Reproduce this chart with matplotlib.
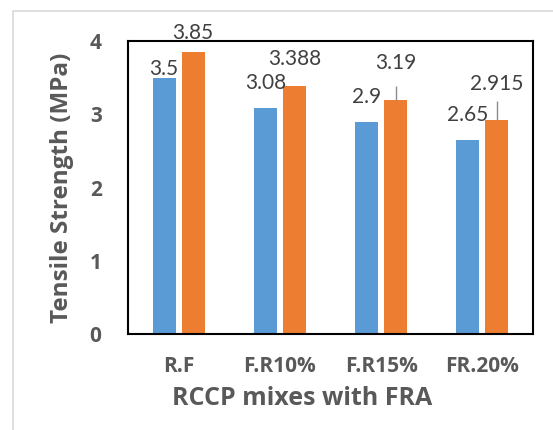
import matplotlib
matplotlib.use("Agg")
import matplotlib.pyplot as plt
import numpy as np
from matplotlib.patches import Rectangle

# Splitting tensile strength of RCCP mixes with fine recycled aggregate
categories = ["R.F", "F.R10%", "F.R15%", "FR.20%"]
series_a = [3.5, 3.08, 2.9, 2.65]
series_b = [3.85, 3.388, 3.19, 2.915]
err_b = [0.0, 0.0, 0.2, 0.265]
yticks = [0, 1, 2, 3, 4]

# vertical placement of each value label above its bar (points)
label_off_a = [6, 18, 18, 18]
label_off_b = [14, 19, 27, 26]

BLUE = "#5B9BD5"
ORANGE = "#ED7D31"
TXT = "#595959"
BOLD_FONT = ["Open Sans", "DejaVu Sans"]

plt.rcParams["font.family"] = ["Lato", "DejaVu Sans"]

fig = plt.figure(figsize=(5.53, 4.30), dpi=100)
ax = fig.add_axes([128 / 553, 1 - 334 / 430, 405 / 553, 293 / 430])

# outer chart frame
fig.patches.append(Rectangle((13 / 553, -0.1), 1.2, (430 - 11) / 430 + 0.1,
                             transform=fig.transFigure, fill=False,
                             edgecolor="#d9d9d9", linewidth=1.2))

x = np.arange(len(categories))
w = 0.227
off = 0.143
ax.bar(x - off, series_a, width=w, color=BLUE, zorder=2)
ax.bar(x + off, series_b, width=w, color=ORANGE, zorder=2)

# positive error bars on the second series
ex = [xi + off for xi, e in zip(x, err_b) if e > 0]
ey = [v for v, e in zip(series_b, err_b) if e > 0]
ee = [e for e in err_b if e > 0]
ax.errorbar(ex, ey, yerr=[np.zeros(len(ee)), ee], fmt="none",
            ecolor="#8c8c8c", elinewidth=1.0, capsize=0, zorder=3)

for xi, v, o in zip(x, series_a, label_off_a):
    ax.annotate(f"{v:g}", (xi - off, v), xytext=(0, o), textcoords="offset points",
                ha="center", va="center", fontsize=15, color="#404040",
                annotation_clip=False)
for xi, v, o in zip(x, series_b, label_off_b):
    ax.annotate(f"{v:g}", (xi + off, v), xytext=(0, o), textcoords="offset points",
                ha="center", va="center", fontsize=15, color="#404040",
                annotation_clip=False)

ax.set_xlim(-0.5, len(categories) - 0.5)
ax.set_ylim(0, 4)
ax.set_yticks(yticks)
ax.set_yticklabels([str(t) for t in yticks], fontsize=15, fontweight="bold",
                   color=TXT, family=BOLD_FONT)
ax.set_xticks(x)
ax.set_xticklabels(categories, fontsize=15, fontweight="bold", color=TXT,
                   family=BOLD_FONT)
ax.tick_params(axis="both", length=0)
ax.tick_params(axis="y", pad=19)
ax.tick_params(axis="x", pad=16)

for s in ax.spines.values():
    s.set_color("black")
    s.set_linewidth(1.5)

ax.set_xlabel("RCCP mixes with FRA", fontsize=18, fontweight="bold", color=TXT,
              family=BOLD_FONT, labelpad=6)
ax.xaxis.label.set_x(0.43)
ax.set_ylabel("Tensile Strength (MPa)", fontsize=17.5, fontweight="bold", color=TXT,
              family=BOLD_FONT, labelpad=11)

fig.savefig("out.png", dpi=100)
